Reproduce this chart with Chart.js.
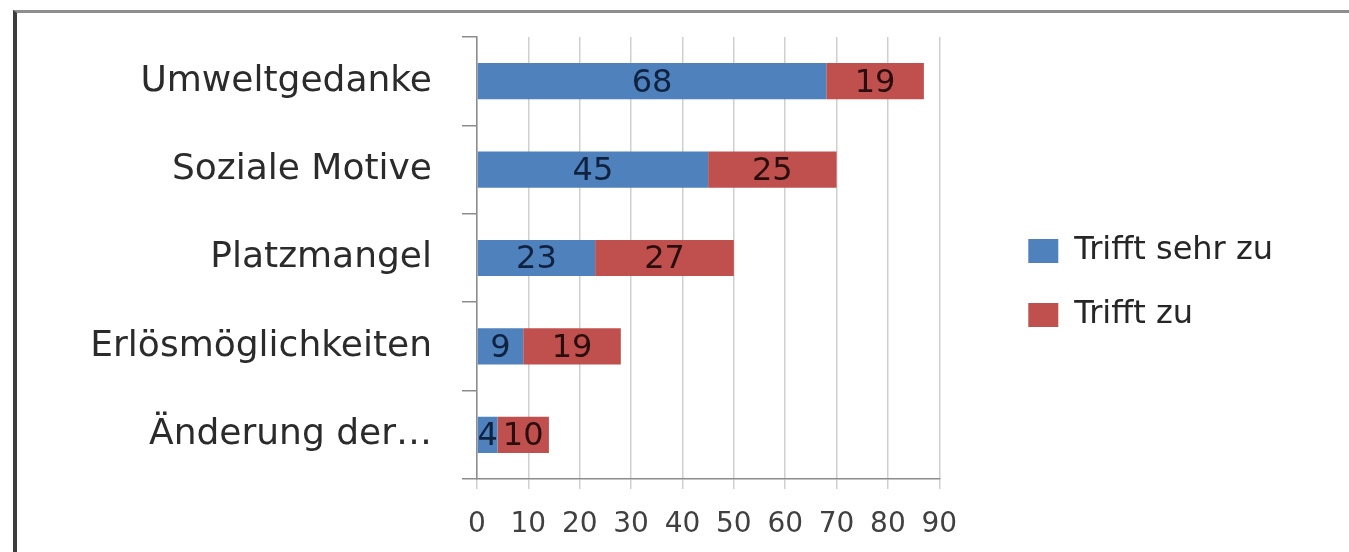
<!DOCTYPE html>
<html>
<head>
<meta charset="utf-8">
<script src="https://cdn.jsdelivr.net/npm/chart.js@4.4.1/dist/chart.umd.min.js"></script>
<style>
  html, body { margin: 0; padding: 0; background: #fff; }
  body { width: 1349px; height: 552px; position: relative; overflow: hidden; }
  #frame {
    position: absolute; left: 13px; top: 10px; right: -10px; bottom: -10px;
    border-left: 4px solid #3c3c3c; border-top: 3px solid #8e8e8e;
  }
  #motiveChart { position: absolute; left: 0; top: 0; }
</style>
</head>
<body>
<div id="frame"></div>
<canvas id="motiveChart" width="1349" height="552"></canvas>
<script>
const categories = ["Umweltgedanke", "Soziale Motive", "Platzmangel", "Erlösmöglichkeiten", "Änderung der…"];
const seriesNames = ["Trifft sehr zu", "Trifft zu"];
const sehrZu = [68, 45, 23, 9, 4];
const zu = [19, 25, 27, 19, 10];
const xTicks = [0, 10, 20, 30, 40, 50, 60, 70, 80, 90];

const FONT = "'DejaVu Sans', sans-serif";

// value labels centred in each bar segment
const barValueLabels = {
  id: "barValueLabels",
  afterDatasetsDraw(chart) {
    const ctx = chart.ctx;
    ctx.save();
    ctx.font = "32px " + FONT;
    ctx.textAlign = "center";
    ctx.textBaseline = "middle";
    chart.data.datasets.forEach((ds, i) => {
      const meta = chart.getDatasetMeta(i);
      ctx.fillStyle = ds.labelColor;
      meta.data.forEach((bar, j) => {
        const p = bar.getProps(["x", "y", "base"], true);
        ctx.fillText(String(ds.data[j]), (p.x + p.base) / 2, p.y + 2);
      });
    });
    ctx.restore();
  }
};

new Chart(document.getElementById("motiveChart"), {
  type: "bar",
  data: {
    labels: categories,
    datasets: [
      { label: seriesNames[0], data: sehrZu, backgroundColor: "#4f81bd", borderWidth: 0, labelColor: "#0f2240" },
      { label: seriesNames[1], data: zu, backgroundColor: "#c0504d", borderWidth: 0, labelColor: "#2a0e0e" }
    ]
  },
  options: {
    responsive: false,
    animation: false,
    indexAxis: "y",
    barPercentage: 0.41,
    categoryPercentage: 1,
    layout: { padding: { top: 37, bottom: 0, left: 0, right: 66 } },
    plugins: {
      tooltip: { enabled: false },
      legend: {
        position: "right",
        fullSize: false,
        // empty title only used to push the entries down a little
        title: { display: true, text: " ", font: { size: 1 }, padding: { top: 49, bottom: 0 } },
        labels: {
          font: { family: FONT, size: 32 },
          color: "#262626",
          boxWidth: 30,
          boxHeight: 24,
          padding: 32
        }
      }
    },
    scales: {
      x: {
        stacked: true,
        min: 0,
        max: 90,
        afterBuildTicks: (s) => { s.ticks = xTicks.map((v) => ({ value: v })); },
        ticks: { color: "#404040", font: { family: FONT, size: 28 }, padding: 19 },
        grid: { color: "#cfcfcf", lineWidth: 1.5, tickLength: 10 },
        border: { color: "#8c8c8c", width: 1.5 },
        afterFit: (s) => { s.height = 73; }
      },
      y: {
        stacked: true,
        ticks: { color: "#2b2b2b", font: { family: FONT, size: 36 }, padding: 30 },
        grid: { drawOnChartArea: false, tickLength: 15, color: "#8c8c8c", lineWidth: 1.5 },
        border: { color: "#8c8c8c", width: 1.5 },
        afterFit: (s) => {
          s.width = 477;
          s.paddingTop = 0;
          s.paddingBottom = 0;
        }
      },
      // invisible spacer between plot and legend
      gap: {
        type: "category",
        position: "right",
        display: false,
        afterFit: (s) => { s.width = 57; }
      }
    }
  },
  plugins: [barValueLabels]
});
</script>
</body>
</html>
